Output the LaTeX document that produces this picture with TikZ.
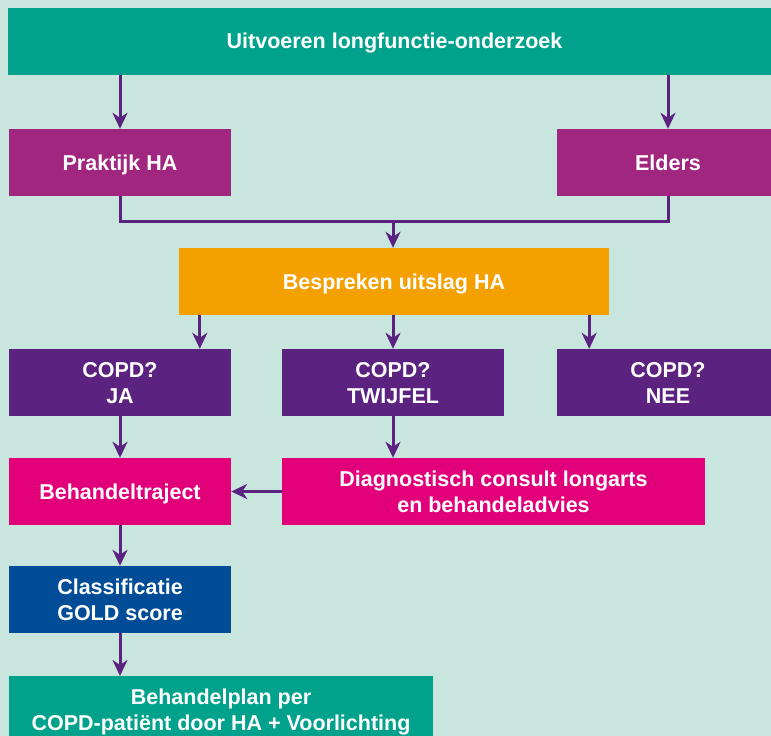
\documentclass[tikz,border=0pt]{standalone}
\usepackage{fontspec}
\setmainfont{Liberation Sans}
\usetikzlibrary{arrows.meta,calc}
\definecolor{bgc}{HTML}{C8E5DE}
\definecolor{tealc}{HTML}{00A28B}
\definecolor{plumc}{HTML}{A1267F}
\definecolor{orangec}{HTML}{F4A000}
\definecolor{violetc}{HTML}{5B2280}
\definecolor{magentac}{HTML}{E2007A}
\definecolor{bluec}{HTML}{004C97}
\definecolor{arrowc}{HTML}{5B2280}
\begin{document}
\begin{tikzpicture}[x=1pt,y=-1pt,
  box/.style={draw=none, text=white, align=center, inner sep=0pt, text depth=0pt,
    font=\fontsize{21.5}{26}\selectfont\bfseries, minimum height=67pt},
  conn/.style={draw=arrowc, line width=3pt},
  arr/.style={conn, -{Stealth[length=16pt,width=15pt,inset=5pt]}}]
\useasboundingbox (0,0) rectangle (771,736);
\fill[bgc] (0,0) rectangle (771,736);
\node[box, fill=tealc, minimum width=773pt] (top) at (394.5,41) {Uitvoeren longfunctie-onderzoek};
\node[box, fill=plumc, minimum width=222pt] (prak) at (120,162.5) {Praktijk HA};
\node[box, fill=plumc, minimum width=222pt] (eld) at (668,162.5) {Elders};
\node[box, fill=orangec, minimum width=430pt] (besp) at (394,281.5) {Bespreken uitslag HA};
\node[box, fill=violetc, minimum width=222pt] (ja) at (120,382.5) {COPD?\\JA};
\node[box, fill=violetc, minimum width=222pt] (tw) at (393,382.5) {COPD?\\TWIJFEL};
\node[box, fill=violetc, minimum width=222pt] (nee) at (668,382.5) {COPD?\\NEE};
\node[box, fill=magentac, minimum width=222pt] (beh) at (120,491.5) {Behandeltraject};
\node[box, fill=magentac, minimum width=423pt] (diag) at (493.5,491.5) {Diagnostisch consult longarts\\en behandeladvies};
\node[box, fill=bluec, minimum width=222pt] (gold) at (120,599.5) {Classificatie\\GOLD score};
\node[box, fill=tealc, minimum width=424pt, minimum height=67pt, anchor=north] (plan) at (221,676) {Behandelplan per\\COPD-patiënt door HA + Voorlichting};
\coordinate (m) at (393,221);
\draw[arr] (top.south -| prak.north) -- (prak.north);
\draw[arr] (top.south -| eld.north) -- (eld.north);
\draw[conn] (prak.south) |- (m);
\draw[conn] (eld.south) |- (m);
\draw[arr] (m) -- (m |- besp.north);
\draw[arr] ([xshift=21pt]besp.south west) -- ([xshift=21pt]besp.south west |- ja.north);
\draw[arr] (besp.south -| tw.north) -- (tw.north);
\draw[arr] ([xshift=-20pt]besp.south east) -- ([xshift=-20pt]besp.south east |- nee.north);
\draw[arr] (ja.south) -- (beh.north);
\draw[arr] (tw.south) -- (tw.south |- diag.north);
\draw[arr] (diag.west) -- (beh.east);
\draw[arr] (beh.south) -- (gold.north);
\draw[arr] (gold.south) -- (gold.south |- plan.north);
\end{tikzpicture}
\end{document}
